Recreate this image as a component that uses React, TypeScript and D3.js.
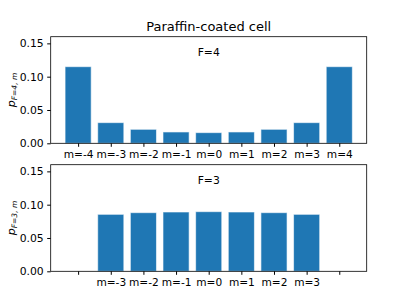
import React, { useRef, useEffect } from 'react';
import * as d3 from 'd3';

const mTop = [-4, -3, -2, -1, 0, 1, 2, 3, 4];
const pTop = [0.115, 0.031, 0.021, 0.017, 0.016, 0.017, 0.021, 0.031, 0.115];
const mBottom = [-3, -2, -1, 0, 1, 2, 3];
const pBottom = [0.0855, 0.088, 0.089, 0.0895, 0.089, 0.088, 0.0855];
const yTicks = [0, 0.05, 0.1, 0.15];
const title = 'Paraffin-coated cell';

const W = 407, H = 305;
const left = 50.7, right = 366.7;
const panels = [
    { F: 4, ms: mTop, ps: pTop, top: 36.7, bottom: 143.3 },
    { F: 3, ms: mBottom, ps: pBottom, top: 164.7, bottom: 271.3 },
];

export default function App() {
    const svgRef = useRef<SVGSVGElement>(null);

    useEffect(() => {
        const svg = d3.select(svgRef.current);
        svg.selectAll('*').remove();
        const font = 'DejaVu Sans, sans-serif';

        svg.append('rect').attr('width', W).attr('height', H).attr('fill', '#fff');

        svg.append('text')
            .attr('x', (left + right) / 2).attr('y', 30.5)
            .attr('text-anchor', 'middle')
            .attr('font-family', font).attr('font-size', 13)
            .text(title);

        const x = d3.scaleLinear().domain([-4.84, 4.84]).range([left, right]);
        const bw = (x(0.8) - x(0));

        panels.forEach(p => {
            const y = d3.scaleLinear().domain([0, 0.16]).range([p.bottom, p.top]);
            const g = svg.append('g');

            // bars
            g.selectAll('rect.bar')
                .data(p.ps)
                .join('rect')
                .attr('x', (_, i) => x(p.ms[i]) - bw / 2)
                .attr('width', bw)
                .attr('y', d => y(d))
                .attr('height', d => y(0) - y(d))
                .attr('fill', '#1f77b4')
                .attr('stroke', '#ffffff')
                .attr('stroke-opacity', 0.6)
                .attr('stroke-width', 1);

            // frame
            g.append('rect')
                .attr('x', left).attr('y', p.top)
                .attr('width', right - left).attr('height', p.bottom - p.top)
                .attr('fill', 'none').attr('stroke', '#000').attr('stroke-width', 0.8);

            // y axis
            const ya = g.append('g')
                .attr('transform', `translate(${left},0)`)
                .call(d3.axisLeft(y).tickValues(yTicks).tickFormat(d3.format('.2f')).tickSize(3.5).tickPadding(3.5));
            ya.select('.domain').remove();
            ya.selectAll('text').attr('font-family', font).attr('font-size', 10.8).attr('fill', '#000');

            // x axis (ticks at all m, labels only for present states)
            const xa = g.append('g')
                .attr('transform', `translate(0,${p.bottom})`)
                .call(d3.axisBottom(x).tickValues(mTop)
                    .tickFormat(d => (p.ms.includes(+d) ? `m=${d}` : ''))
                    .tickSize(3.5).tickPadding(3.5));
            xa.select('.domain').remove();
            xa.selectAll('text').attr('font-family', font).attr('font-size', 10.6).attr('fill', '#000');

            // F label
            g.append('text')
                .attr('x', x(0)).attr('y', p.top + 19.5)
                .attr('text-anchor', 'middle')
                .attr('font-family', font).attr('font-size', 10.8)
                .text(`F=${p.F}`);

            // y label
            const yl = g.append('text')
                .attr('transform', `translate(15,${(p.top + p.bottom) / 2}) rotate(-90)`)
                .attr('text-anchor', 'middle')
                .attr('font-family', font);
            yl.append('tspan').attr('font-size', 11).attr('font-style', 'italic').text('p');
            yl.append('tspan').attr('font-size', 7.5).attr('font-style', 'italic').attr('dy', 2).text(`F=${p.F}, m`);
        });
    }, []);

    return (
        <svg ref={svgRef} width={W} height={H}
            style={{ position: 'absolute', left: 0, top: 0 }} />
    );
}
